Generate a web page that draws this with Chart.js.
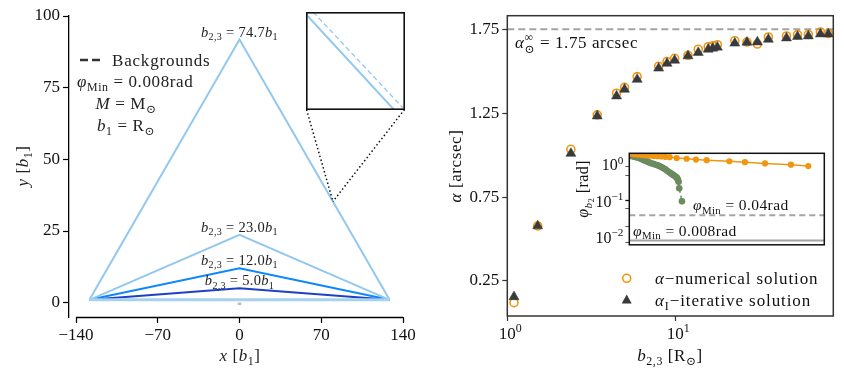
<!DOCTYPE html>
<html>
<head>
<meta charset="utf-8">
<script src="https://cdn.jsdelivr.net/npm/chart.js@4.4.1/dist/chart.umd.min.js"></script>
<style>
  body { margin: 0; background: #fff; }
  #wrap { position: relative; width: 844px; height: 377px; overflow: hidden; background: #fff; }
  #wrap canvas { position: absolute; }
</style>
</head>
<body>
<div id="wrap">
  <canvas id="paths" width="420" height="377" style="left:0;top:0"></canvas>
  <canvas id="zoom" width="99" height="98" style="left:306px;top:12px"></canvas>
  <canvas id="alpha" width="424" height="377" style="left:420px;top:0"></canvas>
  <canvas id="phi" width="270" height="115" style="left:560px;top:140px"></canvas>
</div>
<script>
// ---- left panel: light paths ----
const endX = [-128.5, 128.5];          // source / observer x
const baseY = 1;                        // b1
const apexY = [91.8, 23.7, 12.0, 5.0];  // corner of each path
const b23 = [74.7, 23.0, 12.0, 5.0];    // label values
const xTicks = [-140, -70, 0, 70, 140];
const yTicks = [0, 25, 50, 75, 100];
// zoomed piece of the big path and its background
const zoomAt = { x: 80, y: 35.3 };
const bgX = [79.829, 80.191];
const bgY = [35.418, 35.166];

// ---- right panel: deflection angle ----
const bSun = [1.096, 1.517, 2.39, 3.43, 4.47, 4.99, 5.93, 7.96, 8.93, 9.91, 11.9, 13.7,
  15.7, 16.7, 17.8, 22.6, 26.7, 30.8, 35.8, 45.9, 53.4, 61.9, 73.1, 81.4];
const alphaNum = [0.121, 0.578, 1.035, 1.24, 1.369, 1.404, 1.468, 1.530, 1.558, 1.577, 1.595, 1.631,
  1.646, 1.652, 1.658, 1.682, 1.674, 1.662, 1.704, 1.710, 1.718, 1.719, 1.734, 1.725];
const alphaIter = [0.156, 0.578, 1.010, 1.233, 1.352, 1.392, 1.451, 1.518, 1.547, 1.565, 1.591, 1.611,
  1.631, 1.637, 1.643, 1.667, 1.672, 1.674, 1.690, 1.698, 1.707, 1.710, 1.722, 1.722];
const alphaInf = 1.75;
const alphaTicks = [0.25, 0.75, 1.25, 1.75];

// ---- inset: phi_b2 ----
const phiOrangeX = [0.5, 2.5, 4.5, 6.5, 8.5, 10.5, 12.5, 14.5, 16.5, 18.5, 20.7, 24.3, 29.4, 34.2, 39.7, 51.3, 59.3, 69.6, 82.9, 91.8];
const phiOrangeY = [1.95, 1.9, 1.86, 1.82, 1.78, 1.74, 1.71, 1.68, 1.65, 1.62, 1.58, 1.50, 1.43, 1.36, 1.31, 1.22, 1.15, 1.06, 0.98, 0.90];
const phiGreenX = [0.4, 1.5, 2.5, 3.5, 4.5, 5.5, 6.5, 7.5, 8.6, 9.6, 10.6, 11.6, 12.6, 13.6, 14.6, 15.4, 16.4, 17.4,
  18.4, 19.4, 20.5, 21.3, 22.1, 22.8, 23.5, 24.0, 24.5, 24.9, 25.3, 25.6, 27.0];
const phiGreenY = [1.72, 1.68, 1.63, 1.58, 1.52, 1.46, 1.39, 1.31, 1.23, 1.17, 1.11, 1.06, 1.02, 0.98, 0.94, 0.90, 0.85, 0.79,
  0.73, 0.67, 0.61, 0.57, 0.53, 0.50, 0.47, 0.45, 0.42, 0.38, 0.33, 0.22, 0.096];
const phiMin = [0.04, 0.008];
const phiDecades = [0.01, 0.1, 1];

const FONT = '"Liberation Serif", "DejaVu Serif", serif';
Chart.defaults.font.family = FONT;
Chart.defaults.color = '#111';

const pts = (xs, ys) => xs.map((x, i) => ({ x: x, y: ys[i] }));

// small text setter for math-like labels: [text, kind]
function mathText(ctx, parts, x, y, size, align, spacing) {
  const scale = { r: 1, i: 1, sub: 0.7, isub: 0.7, sup: 0.7, subsub: 0.55, stack: 0.7 };
  const shift = { r: 0, i: 0, sub: 0.22, isub: 0.22, sup: -0.42, subsub: 0.4 };
  const font = k => ((k === 'i' || k === 'isub') ? 'italic ' : '') + (size * scale[k]).toFixed(1) + 'px ' + FONT;
  ctx.save();
  ctx.letterSpacing = (spacing || 0) + 'px';
  const widthOf = p => {
    ctx.font = font(p[1]);
    if (p[1] === 'stack') return Math.max(ctx.measureText(p[0]).width, ctx.measureText(p[2]).width);
    return ctx.measureText(p[0]).width;
  };
  const total = parts.reduce((s, p) => s + widthOf(p), 0);
  let cx = align === 'center' ? x - total / 2 : align === 'right' ? x - total : x;
  ctx.textAlign = 'left';
  ctx.textBaseline = 'alphabetic';
  parts.forEach(p => {
    const w = widthOf(p);
    ctx.font = font(p[1]);
    if (p[1] === 'stack') {
      ctx.fillText(p[0], cx, y - size * 0.42);
      ctx.fillText(p[2], cx, y + size * 0.3);
    } else {
      ctx.fillText(p[0], cx, y + size * shift[p[1]]);
    }
    cx += w;
  });
  ctx.restore();
}

function rotatedText(ctx, parts, x, y, size, spacing) {
  ctx.save();
  ctx.translate(x, y);
  ctx.rotate(-Math.PI / 2);
  mathText(ctx, parts, 0, 0, size, 'center', spacing);
  ctx.restore();
}

// ================= left panel =================
const lightBlue = '#92c8ef';
const pathColors = [lightBlue, lightBlue, '#0d88fb', '#1e41c4'];

const pathSets = apexY.map((h, i) => ({
  data: [{ x: endX[0], y: baseY }, { x: 0, y: h }, { x: endX[1], y: baseY }],
  showLine: true, borderColor: pathColors[i], borderWidth: 2, pointRadius: 0, order: 2
}));

const leftDecor = {
  id: 'leftDecor',
  afterDraw(chart) {
    const { ctx, chartArea, scales: { x, y } } = chart;
    ctx.save();
    ctx.strokeStyle = '#000';
    ctx.lineWidth = 1.3;
    ctx.beginPath();
    ctx.moveTo(x.getPixelForValue(xTicks[0]), chartArea.bottom + 0.5);
    ctx.lineTo(x.getPixelForValue(xTicks[xTicks.length - 1]), chartArea.bottom + 0.5);
    ctx.stroke();

    ctx.fillStyle = '#222';
    apexY.forEach((h, i) => {
      mathText(ctx, [['b', 'i'], ['2,3', 'sub'], [' = ' + b23[i].toFixed(1), 'r'], ['b', 'i'], ['1', 'sub']],
        x.getPixelForValue(0), y.getPixelForValue(h) - 3, 14.5, 'center', 0.3);
    });

    // legend-ish block
    ctx.strokeStyle = '#333';
    ctx.lineWidth = 2.6;
    ctx.setLineDash([8, 4]);
    ctx.beginPath();
    ctx.moveTo(80, 60);
    ctx.lineTo(101, 60);
    ctx.stroke();
    ctx.setLineDash([]);
    mathText(ctx, [['Backgrounds', 'r']], 112, 66, 17, 'left', 0.8);
    mathText(ctx, [['φ', 'i'], ['Min', 'sub'], [' = 0.008rad', 'r']], 77, 87, 17, 'left', 0.6);
    mathText(ctx, [['M', 'i'], [' = M', 'r'], ['⊙', 'sub']], 126, 109, 17, 'center', 0.6);
    mathText(ctx, [['b', 'i'], ['1', 'sub'], [' = R', 'r'], ['⊙', 'sub']], 126, 131, 17, 'center', 0.6);

    // axis titles
    mathText(ctx, [['x', 'i'], [' [', 'r'], ['b', 'i'], ['1', 'sub'], [']', 'r']], 240, 361, 17, 'center', 0.6);
    rotatedText(ctx, [['y', 'i'], [' [', 'r'], ['b', 'i'], ['1', 'sub'], [']', 'r']], 28, 166, 17, 0.6);

    // connectors to the zoom box
    const px = x.getPixelForValue(zoomAt.x), py = y.getPixelForValue(zoomAt.y);
    ctx.strokeStyle = '#111';
    ctx.lineWidth = 1.5;
    ctx.setLineDash([1.5, 2.5]);
    ctx.beginPath();
    ctx.moveTo(306.5, 109.5); ctx.lineTo(px, py);
    ctx.moveTo(404.5, 109.5); ctx.lineTo(px, py);
    ctx.stroke();
    ctx.restore();
  }
};

new Chart(document.getElementById('paths'), {
  type: 'scatter',
  data: {
    datasets: [
      ...pathSets,
      { data: [{ x: endX[0], y: baseY }, { x: endX[1], y: baseY }], showLine: true,
        borderColor: '#a6d2f2', borderWidth: 3, pointRadius: 0, order: 1 },
      { data: [{ x: -1.6, y: -0.4 }, { x: 1.6, y: -0.4 }], showLine: true,
        borderColor: '#bdbdbd', borderWidth: 2.5, pointRadius: 0, order: 3 }
    ]
  },
  options: {
    responsive: false,
    animation: false,
    layout: { padding: { left: 0, top: 16, right: 17, bottom: 0 } },
    plugins: { legend: { display: false }, tooltip: { enabled: false } },
    scales: {
      x: {
        type: 'linear', min: -146, max: 140,
        afterFit: s => { s.height = 60; },
        afterBuildTicks: s => { s.ticks = xTicks.map(v => ({ value: v })); },
        ticks: { font: { size: 17 }, color: '#111', padding: 2, maxRotation: 0,
          callback: v => String(v).replace('-', '\u2212') },
        grid: { drawOnChartArea: false, tickLength: 6, color: '#000', tickWidth: 1.2 },
        border: { display: false }
      },
      y: {
        type: 'linear', min: -5, max: 100,
        afterFit: s => { s.width = 69; },
        afterBuildTicks: s => { s.ticks = yTicks.map(v => ({ value: v })); },
        ticks: { font: { size: 17 }, color: '#111', padding: 3 },
        grid: { drawOnChartArea: false, tickLength: 6, color: '#000', tickWidth: 1.2 },
        border: { display: true, color: '#000', width: 1.3 }
      }
    }
  },
  plugins: [leftDecor]
});

// zoom box
new Chart(document.getElementById('zoom'), {
  type: 'scatter',
  data: {
    datasets: [
      { data: [{ x: 0, y: apexY[0] }, { x: endX[1], y: baseY }], showLine: true,
        borderColor: lightBlue, borderWidth: 2, pointRadius: 0 },
      { data: pts(bgX, bgY), showLine: true, borderColor: lightBlue, borderWidth: 1.3,
        borderDash: [5, 3], pointRadius: 0 }
    ]
  },
  options: {
    responsive: false,
    animation: false,
    layout: { padding: 0 },
    plugins: { legend: { display: false }, tooltip: { enabled: false } },
    scales: {
      x: { type: 'linear', min: 79.8, max: 80.2, display: false },
      y: { type: 'linear', min: 35.160, max: 35.418, display: false }
    }
  },
  plugins: [{
    id: 'zoomFrame',
    afterDraw(chart) {
      const { ctx } = chart;
      ctx.save();
      ctx.strokeStyle = '#111';
      ctx.lineWidth = 1.6;
      ctx.strokeRect(0.8, 0.8, chart.width - 1.6, chart.height - 1.6);
      ctx.restore();
    }
  }]
});

// ================= right panel =================
const orange = '#f0960f';
const darkTri = '#373b3e';

const rightDecor = {
  id: 'rightDecor',
  afterDraw(chart) {
    const { ctx, chartArea: a, scales: { x, y } } = chart;
    ctx.save();
    ctx.strokeStyle = '#333';
    ctx.lineWidth = 1.5;
    ctx.strokeRect(a.left, a.top, a.right - a.left, a.bottom - a.top);

    ctx.fillStyle = '#111';
    [1, 10].forEach((v, i) => {
      mathText(ctx, [['10', 'r'], [String(i), 'sup']], x.getPixelForValue(v) + 3, 339, 17, 'center');
    });

    mathText(ctx, [['b', 'i'], ['2,3', 'sub'], [' [R', 'r'], ['⊙', 'sub'], [']', 'r']], 250, 361, 17, 'center', 0.6);
    rotatedText(ctx, [['α', 'i'], [' [arcsec]', 'r']], 41, 166, 17, 0.6);

    mathText(ctx, [['α', 'i'], ['∞', 'stack', '⊙'], [' = 1.75 arcsec', 'r']], 95, y.getPixelForValue(alphaInf) + 19, 17, 'left', 0.6);

    // legend
    const lx = 206.7;
    ctx.strokeStyle = orange;
    ctx.lineWidth = 1.6;
    ctx.beginPath();
    ctx.arc(lx, 278.3, 4, 0, Math.PI * 2);
    ctx.stroke();
    ctx.fillStyle = darkTri;
    ctx.beginPath();
    ctx.moveTo(lx, 294.5);
    ctx.lineTo(lx + 5, 303.5);
    ctx.lineTo(lx - 5, 303.5);
    ctx.closePath();
    ctx.fill();
    ctx.fillStyle = '#111';
    mathText(ctx, [['α', 'i'], ['\u2212numerical solution', 'r']], 235, 284, 17, 'left', 0.9);
    mathText(ctx, [['α', 'i'], ['I', 'sub'], ['\u2212iterative solution', 'r']], 235, 306, 17, 'left', 0.9);
    ctx.restore();
  }
};

new Chart(document.getElementById('alpha'), {
  type: 'scatter',
  data: {
    datasets: [
      { data: [{ x: 1, y: alphaInf }, { x: 100, y: alphaInf }], showLine: true, borderColor: '#a4a4a4',
        borderWidth: 2, borderDash: [7, 4], pointRadius: 0, order: 3 },
      { data: pts(bSun, alphaNum), pointStyle: 'circle', pointRadius: 4, borderWidth: 1.6,
        borderColor: orange, backgroundColor: 'rgba(0,0,0,0)', order: 2 },
      { data: pts(bSun, alphaIter), pointStyle: 'triangle', pointRadius: 5.8, borderWidth: 0.5,
        borderColor: darkTri, backgroundColor: darkTri, order: 1 }
    ]
  },
  options: {
    responsive: false,
    animation: false,
    layout: { padding: { left: 0, top: 15.7, right: 10.7, bottom: 0 } },
    plugins: { legend: { display: false }, tooltip: { enabled: false } },
    scales: {
      x: {
        type: 'logarithmic', min: 1, max: 87.2,
        afterFit: s => { s.height = 61; },
        afterBuildTicks: s => { s.ticks = [{ value: 1 }, { value: 10 }]; },
        ticks: { callback: () => '' },
        grid: { drawOnChartArea: false, tickLength: 5, color: '#333', tickWidth: 1.2 },
        border: { display: false }
      },
      y: {
        type: 'linear', min: 0.0414, max: 1.831,
        afterFit: s => { s.width = 87.3; },
        afterBuildTicks: s => { s.ticks = alphaTicks.map(v => ({ value: v })); },
        ticks: { font: { size: 17 }, color: '#111', padding: 3, callback: v => v.toFixed(2) },
        grid: { drawOnChartArea: false, tickLength: 5, color: '#333', tickWidth: 1.2 },
        border: { display: false }
      }
    }
  },
  plugins: [rightDecor]
});

// ================= inset: phi_b2 =================
const green = '#6b8a5e';
const phiTickValues = [];
[0.001, 0.01, 0.1, 1].forEach(d => { for (let k = 1; k < 10; k++) phiTickValues.push(+(d * k).toPrecision(3)); });

const phiDecor = {
  id: 'phiDecor',
  afterDraw(chart) {
    const { ctx, chartArea: a, scales: { y } } = chart;
    ctx.save();
    ctx.strokeStyle = '#111';
    ctx.lineWidth = 1.5;
    ctx.strokeRect(a.left, a.top, a.right - a.left, a.bottom - a.top);
    ctx.fillStyle = '#111';
    phiDecades.forEach(v => {
      const e = Math.round(Math.log10(v));
      mathText(ctx, [['10', 'r'], [e === 0 ? '0' : '\u2212' + (-e), 'sup']], a.left - 6, y.getPixelForValue(v) + 6, 16, 'right');
    });
    rotatedText(ctx, [['φ', 'i'], ['b', 'isub'], ['2', 'subsub'], [' [rad]', 'r']], 28, 49, 16, 0.4);
    mathText(ctx, [['φ', 'i'], ['Min', 'sub'], [' = 0.04rad', 'r']], 133, y.getPixelForValue(phiMin[0]) - 5, 15.5, 'left', 0.4);
    mathText(ctx, [['φ', 'i'], ['Min', 'sub'], [' = 0.008rad', 'r']], 73, y.getPixelForValue(phiMin[1]) - 5, 15.5, 'left', 0.4);
    ctx.restore();
  }
};

new Chart(document.getElementById('phi'), {
  type: 'scatter',
  data: {
    datasets: [
      { data: [{ x: 0, y: phiMin[0] }, { x: 100, y: phiMin[0] }], showLine: true, borderColor: '#a4a4a4',
        borderWidth: 2, borderDash: [6, 4], pointRadius: 0, order: 4 },
      { data: [{ x: 0, y: phiMin[1] }, { x: 100, y: phiMin[1] }], showLine: true, borderColor: '#a4a4a4',
        borderWidth: 2, pointRadius: 0, order: 3 },
      { data: pts(phiGreenX, phiGreenY), showLine: true, borderColor: green, backgroundColor: green,
        borderWidth: 1.5, pointRadius: 3.3, pointBorderWidth: 0, order: 2,
        segment: { borderDash: c => c.p1DataIndex >= phiGreenX.length - 2 ? [4, 3] : undefined } },
      { data: pts(phiOrangeX, phiOrangeY), showLine: true, borderColor: orange, backgroundColor: orange,
        borderWidth: 1.5, pointRadius: 3.1, pointBorderWidth: 0, order: 1 }
    ]
  },
  options: {
    responsive: false,
    animation: false,
    layout: { padding: { left: 0, top: 13.3, right: 5.7, bottom: 5 } },
    plugins: { legend: { display: false }, tooltip: { enabled: false } },
    scales: {
      x: { type: 'linear', min: 0, max: 100, display: false },
      y: {
        type: 'logarithmic', min: 0.0061, max: 2.02,
        afterFit: s => { s.width = 69.3; },
        afterBuildTicks: s => { s.ticks = phiTickValues.filter(v => v >= 0.0061 && v <= 2.02).map(v => ({ value: v })); },
        ticks: { callback: () => '' },
        grid: { drawOnChartArea: false, tickLength: 4, color: '#111',
          tickWidth: c => (c.tick && phiDecades.includes(c.tick.value)) ? 1.3 : 0.7 },
        border: { display: false }
      }
    }
  },
  plugins: [phiDecor]
});
</script>
</body>
</html>
